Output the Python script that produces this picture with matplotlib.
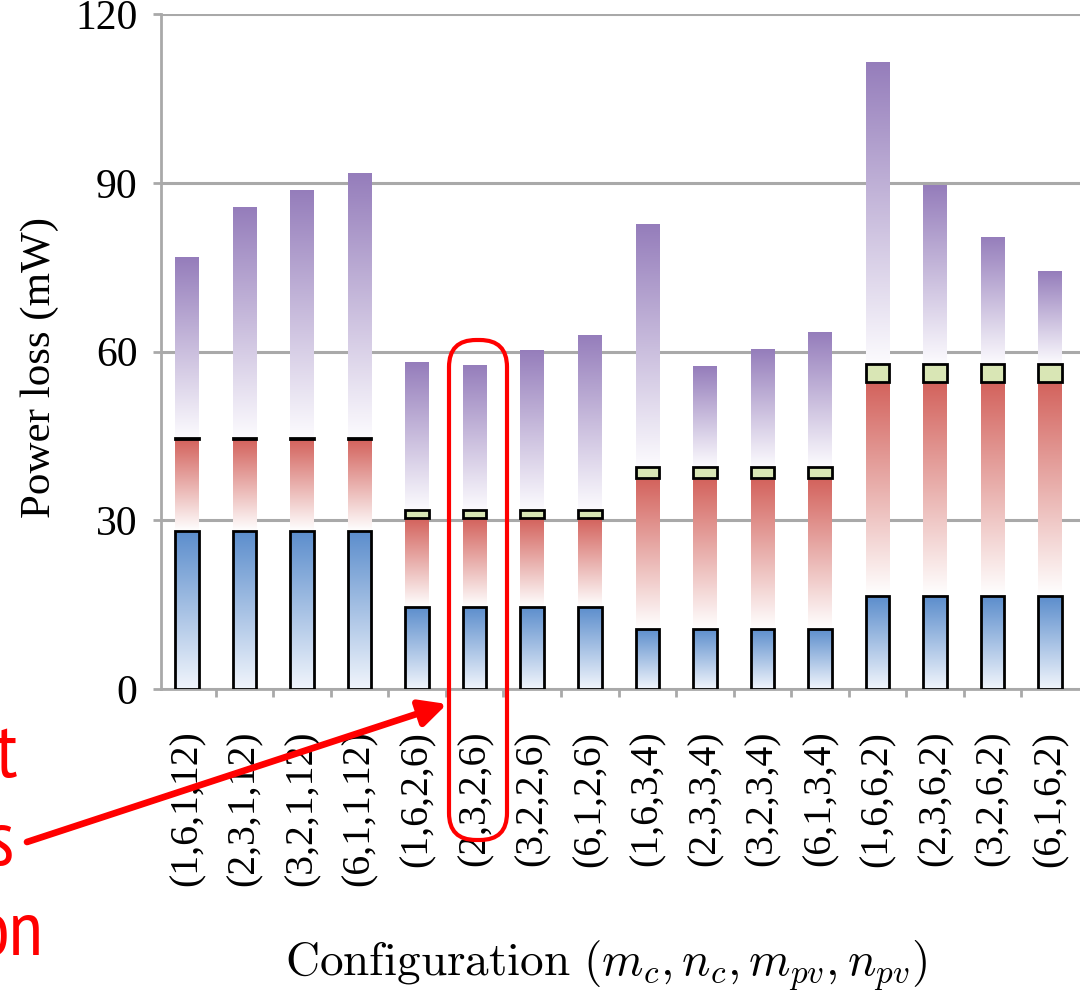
import numpy as np
import matplotlib
matplotlib.use('Agg')
import matplotlib.pyplot as plt
from matplotlib import font_manager
from matplotlib.colors import LinearSegmentedColormap
from matplotlib.patches import FancyBboxPatch, FancyArrowPatch

configs = ["(1,6,1,12)", "(2,3,1,12)", "(3,2,1,12)", "(6,1,1,12)",
           "(1,6,2,6)", "(2,3,2,6)", "(3,2,2,6)", "(6,1,2,6)",
           "(1,6,3,4)", "(2,3,3,4)", "(3,2,3,4)", "(6,1,3,4)",
           "(1,6,6,2)", "(2,3,6,2)", "(3,2,6,2)", "(6,1,6,2)"]
blue = [28.1, 28.1, 28.1, 28.1, 14.6, 14.6, 14.6, 14.6,
        10.7, 10.7, 10.7, 10.7, 16.5, 16.5, 16.5, 16.5]
red = [16.3, 16.3, 16.3, 16.3, 15.8, 15.8, 15.8, 15.8,
       26.8, 26.8, 26.8, 26.8, 38.1, 38.1, 38.1, 38.1]
green = [0.3, 0.3, 0.3, 0.3, 1.4, 1.4, 1.4, 1.4,
         2.0, 2.0, 2.0, 2.0, 3.2, 3.2, 3.2, 3.2]
purple = [32.1, 41.0, 44.0, 47.0, 26.3, 25.8, 28.5, 31.2,
          43.2, 17.9, 20.9, 24.0, 53.7, 31.8, 22.6, 16.5]
yticks = [0, 30, 60, 90, 120]
note_parts = ["t", "s", "on"]

plt.rcParams['mathtext.fontset'] = 'cm'
SERIF = ['Liberation Serif', 'DejaVu Serif']
available = set(f.name for f in font_manager.fontManager.ttflist)
narrow = 'Liberation Sans'
for cand in ['PT Sans Narrow', 'Archivo Narrow', 'Roboto Condensed',
             'Pragati Narrow', 'Liberation Sans Narrow']:
    if cand in available:
        narrow = cand
        break

W, H = 1080, 990
fig = plt.figure(figsize=(W / 100, H / 100), dpi=100)


def fx(px):
    return px / W


def fy(py):
    return 1 - py / H


ax = fig.add_axes([fx(161), fy(689), fx(1080) - fx(161), (689 - 14) / H])

x = np.arange(len(configs))
b = np.array(blue)
r = np.array(red)
g = np.array(green)
p = np.array(purple)
bw = 0.41

cm_blue = LinearSegmentedColormap.from_list('bl', ['#f1f5fc', '#5b8dcc'])
cm_red = LinearSegmentedColormap.from_list('rd', ['#ffffff', '#d3625c'])
cm_purple = LinearSegmentedColormap.from_list('pu', ['#fcfbfe', '#957dbb'])
grad = np.linspace(0, 1, 256).reshape(-1, 1)


def grad_bars(bottom, height, cmap, edge, z):
    bars = ax.bar(x, height, bw, bottom=bottom, facecolor='none',
                  edgecolor=edge, linewidth=(2.0 if edge != 'none' else 0),
                  zorder=z + 1)
    for bar in bars:
        x0, y0 = bar.get_x(), bar.get_y()
        w, h = bar.get_width(), bar.get_height()
        im = ax.imshow(grad, extent=[x0, x0 + w, y0, y0 + h], origin='lower',
                       cmap=cmap, aspect='auto', zorder=z,
                       interpolation='bilinear')
        im.set_clip_path(bar)
    return bars


grad_bars(b + r + g, p, cm_purple, 'none', 2)
grad_bars(b, r, cm_red, 'none', 2)
grad_bars(0, b, cm_blue, 'black', 4)
ax.bar(x, g, bw, bottom=b + r, facecolor='#d9e6b5', edgecolor='black',
       linewidth=2.0, zorder=6)

ax.set_xlim(-0.452, 15.52)
ax.set_ylim(0, 120)
ax.set_yticks(yticks)
ax.set_yticklabels([str(v) for v in yticks], family=SERIF, fontsize=30)
ax.set_xticks(x)
ax.set_xticklabels(configs, rotation=90, family=SERIF, fontsize=28.5)
ax.set_xticks(x[:-1] + 0.5, minor=True)
ax.tick_params(axis='x', which='major', length=0, pad=30)
ax.tick_params(axis='x', which='minor', length=6, width=2, color='#a9a9a9',
               direction='out')
ax.tick_params(axis='y', length=6, width=2, color='#a9a9a9', pad=11)

ax.grid(axis='y', color='#a9a9a9', linewidth=2.2, zorder=0)
ax.set_axisbelow(True)
for s in ['top', 'right']:
    ax.spines[s].set_visible(False)
for s in ['left', 'bottom']:
    ax.spines[s].set_color('#a9a9a9')
    ax.spines[s].set_linewidth(2.0)

fig.text(fx(40), fy(368), 'Power loss (mW)', rotation=90, ha='center',
         va='center', family=SERIF, fontsize=31)
fig.text(fx(606), fy(976), r'$\mathrm{Configuration}\ (m_c,n_c,m_{pv},n_{pv})$',
         ha='center', va='baseline', fontsize=34)

# highlight box around the best configuration
box = FancyBboxPatch((4.49, (H - 840) / 100), 0.58, 5.00,
                     boxstyle='round,pad=0,rounding_size=0.27',
                     transform=fig.dpi_scale_trans, fill=False,
                     edgecolor='#ff0000', linewidth=3.0, zorder=10)
fig.add_artist(box)
arrow = FancyArrowPatch((0.27, (H - 842) / 100), (4.47, (H - 704) / 100),
                        arrowstyle='-|>,head_length=0.8,head_width=0.4',
                        mutation_scale=20, color='#ff0000', linewidth=4.8,
                        shrinkA=0, shrinkB=0, transform=fig.dpi_scale_trans,
                        zorder=10)
fig.add_artist(arrow)

for txt, (px, py) in zip(note_parts, [(17, 777), (14, 865), (43, 955)]):
    fig.text(fx(px), fy(py), txt, ha='right', va='baseline', color='#ff0000',
             family=[narrow, 'DejaVu Sans'], fontweight='light', fontsize=56)

fig.savefig('out.png', dpi=100)
